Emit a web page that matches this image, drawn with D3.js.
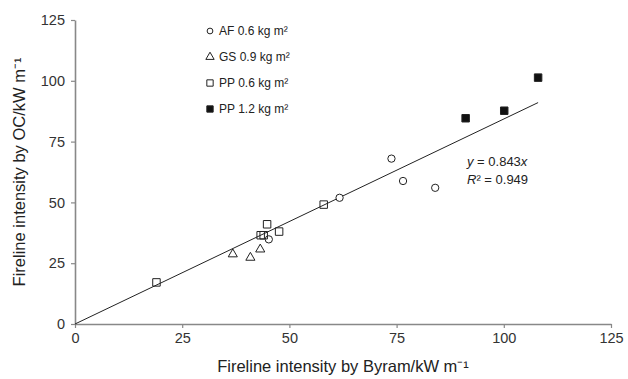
<!DOCTYPE html>
<meta charset="utf-8">
<style>
  body { margin: 0; background: #fff; }
  svg { font-family: "Liberation Sans", Arial, sans-serif; }
</style>
<body>
<script src="https://d3js.org/d3.v7.min.js"></script>
<script>
// data
var afX = [45.2, 61.7, 73.8, 76.5, 84.0],
    afY = [34.8, 51.9, 68.0, 58.8, 56.0];
var gsX = [36.8, 40.9, 43.2],
    gsY = [28.7, 27.3, 30.7];
var pp06X = [19.0, 43.3, 44.0, 44.8, 47.6, 58.0],
    pp06Y = [17.1, 36.5, 36.5, 41.0, 38.0, 49.1];
var pp12X = [91.1, 100.1, 108.0],
    pp12Y = [84.6, 87.7, 101.3];
var slope = 0.843, r2 = 0.949, fitMaxX = 108;
var ticks = [0, 25, 50, 75, 100, 125];
var legendLabels = ["AF 0.6 kg m\u00B2", "GS 0.9 kg m\u00B2", "PP 0.6 kg m\u00B2", "PP 1.2 kg m\u00B2"];

var margin = {top: 20, right: 17, bottom: 55, left: 75},
    width = 628 - margin.left - margin.right,
    height = 379 - margin.top - margin.bottom;

var x = d3.scaleLinear().domain([0, 125]).range([0, width]),
    y = d3.scaleLinear().domain([0, 125]).range([height, 0]);

var svg = d3.select("body").append("svg")
    .attr("width", 628)
    .attr("height", 379)
  .append("g")
    .attr("transform", "translate(" + margin.left + "," + margin.top + ")");

// axes
var xAxis = svg.append("g")
    .attr("transform", "translate(0," + height + ")")
    .call(d3.axisBottom(x).tickValues(ticks).tickSize(4).tickSizeOuter(0).tickPadding(5));
var yAxis = svg.append("g")
    .call(d3.axisLeft(y).tickValues(ticks).tickSize(4).tickSizeOuter(0).tickPadding(6));

[xAxis, yAxis].forEach(function(a) {
  a.select(".domain").attr("stroke", "#888").attr("stroke-width", 1.6);
  a.selectAll(".tick line").attr("stroke", "#888").attr("stroke-width", 1.2);
  a.selectAll(".tick text").attr("fill", "#333").attr("font-size", 14.5);
});

// regression line
svg.append("line")
    .attr("x1", x(0)).attr("y1", y(0))
    .attr("x2", x(fitMaxX)).attr("y2", y(slope * fitMaxX))
    .attr("stroke", "#222").attr("stroke-width", 1);

function zip(xs, ys) { return xs.map(function(v, i) { return [v, ys[i]]; }); }

var sym = {
  circle: d3.symbol().type(d3.symbolCircle).size(42),
  triangle: d3.symbol().type(d3.symbolTriangle).size(36),
  square: d3.symbol().type(d3.symbolSquare).size(56)
};

var series = [
  {pts: zip(afX, afY), shape: "circle", fill: "#fff"},
  {pts: zip(gsX, gsY), shape: "triangle", fill: "#fff"},
  {pts: zip(pp06X, pp06Y), shape: "square", fill: "none"},
  {pts: zip(pp12X, pp12Y), shape: "square", fill: "#111"}
];

series.forEach(function(s) {
  svg.append("g").selectAll("path")
    .data(s.pts)
    .enter().append("path")
      .attr("transform", function(d) { return "translate(" + x(d[0]) + "," + y(d[1]) + ")"; })
      .attr("d", sym[s.shape])
      .attr("fill", s.fill)
      .attr("stroke", "#222")
      .attr("stroke-width", 1);
});

// legend
var legend = svg.append("g").attr("transform", "translate(135,11)");
series.forEach(function(s, i) {
  var g = legend.append("g").attr("transform", "translate(0," + (i * 26) + ")");
  g.append("path")
    .attr("d", s.shape === "circle" ? d3.symbol().type(d3.symbolCircle).size(26)()
             : s.shape === "triangle" ? d3.symbol().type(d3.symbolTriangle).size(30)()
             : d3.symbol().type(d3.symbolSquare).size(40)())
    .attr("fill", s.fill === "none" ? "#fff" : s.fill)
    .attr("stroke", "#222").attr("stroke-width", 1);
  g.append("text")
    .attr("x", 9).attr("dy", "0.35em")
    .attr("font-size", 12).attr("fill", "#222")
    .text(legendLabels[i]);
});

// equation
svg.append("text")
    .attr("x", 392).attr("y", 146)
    .attr("font-size", 13).attr("fill", "#222")
    .html('<tspan font-style="italic">y</tspan> = ' + slope + '<tspan font-style="italic">x</tspan>');
svg.append("text")
    .attr("x", 392).attr("y", 164)
    .attr("font-size", 13).attr("fill", "#222")
    .html('<tspan font-style="italic">R</tspan>\u00B2 = ' + r2);

// axis titles
svg.append("text")
    .attr("x", width / 2).attr("y", height + 48)
    .attr("text-anchor", "middle")
    .attr("font-size", 16.5).attr("fill", "#222")
    .text("Fireline intensity by Byram/kW m\u207B\u00B9");
svg.append("text")
    .attr("transform", "translate(-50," + (height / 2) + ") rotate(-90)")
    .attr("text-anchor", "middle")
    .attr("font-size", 16.5).attr("fill", "#222")
    .text("Fireline intensity by OC/kW m\u207B\u00B9");
</script>
</body>
